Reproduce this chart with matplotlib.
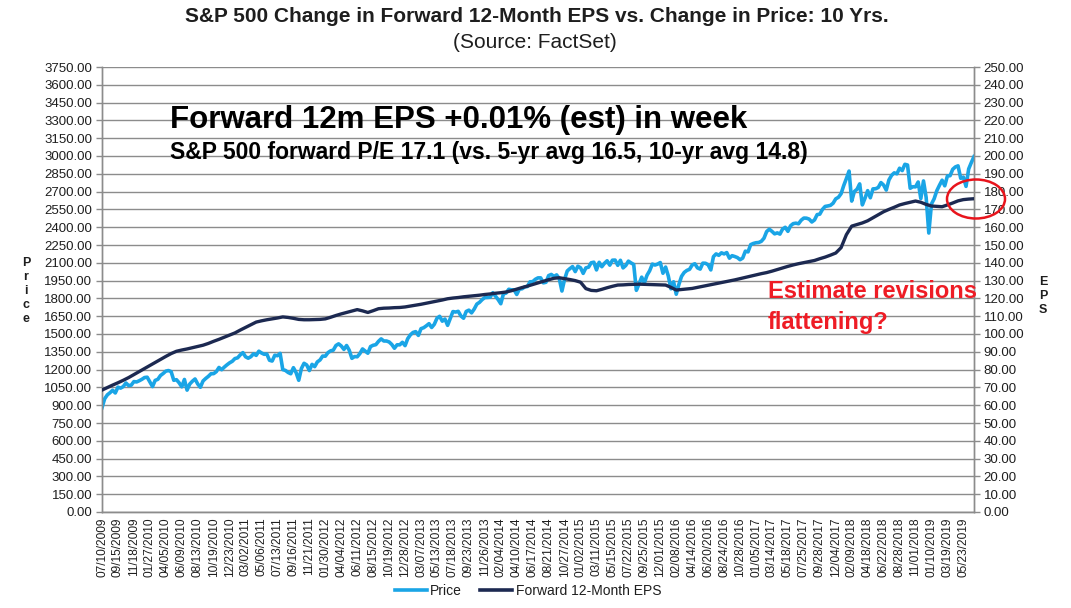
import numpy as np
import matplotlib
matplotlib.use("Agg")
import matplotlib.pyplot as plt
from matplotlib.patches import Ellipse
from matplotlib.lines import Line2D

plt.rcParams['font.family'] = ['Liberation Sans', 'DejaVu Sans']

# x-axis category labels (one every ~46 trading days)
date_labels = [
    "07/10/2009", "09/15/2009", "11/18/2009", "01/27/2010", "04/05/2010", "06/09/2010",
    "08/13/2010", "10/19/2010", "12/23/2010", "03/02/2011", "05/06/2011", "07/13/2011",
    "09/16/2011", "11/21/2011", "01/30/2012", "04/04/2012", "06/11/2012", "08/15/2012",
    "10/19/2012", "12/28/2012", "03/07/2013", "05/13/2013", "07/18/2013", "09/23/2013",
    "11/26/2013", "02/04/2014", "04/10/2014", "06/17/2014", "08/21/2014", "10/27/2014",
    "01/02/2015", "03/11/2015", "05/15/2015", "07/22/2015", "09/25/2015", "12/01/2015",
    "02/08/2016", "04/14/2016", "06/20/2016", "08/24/2016", "10/28/2016", "01/05/2017",
    "03/14/2017", "05/18/2017", "07/25/2017", "09/28/2017", "12/04/2017", "02/09/2018",
    "04/18/2018", "06/22/2018", "08/28/2018", "11/01/2018", "01/10/2019", "03/19/2019",
    "05/23/2019",
]

# S&P 500 price, 6 readings per label interval
price = [
    879, 954, 987, 1005, 1026, 1003, 1052, 1044, 1057, 1087, 1066, 1069,
    1099, 1096, 1106, 1118, 1133, 1136, 1097, 1057, 1109, 1118, 1150, 1167,
    1187, 1192, 1183, 1110, 1115, 1089, 1055, 1117, 1027, 1078, 1102, 1121,
    1079, 1051, 1104, 1125, 1143, 1165, 1166, 1183, 1218, 1199, 1221, 1240,
    1257, 1270, 1293, 1299, 1324, 1343, 1308, 1296, 1309, 1333, 1320, 1355,
    1340, 1329, 1331, 1279, 1272, 1321, 1317, 1337, 1200, 1193, 1176, 1165,
    1216, 1175, 1110, 1209, 1253, 1239, 1192, 1244, 1225, 1265, 1281, 1314,
    1313, 1343, 1358, 1364, 1403, 1417, 1399, 1370, 1403, 1363, 1295, 1310,
    1308, 1335, 1374, 1356, 1338, 1394, 1405, 1410, 1438, 1459, 1441, 1441,
    1433, 1412, 1380, 1409, 1409, 1430, 1402, 1461, 1493, 1513, 1520, 1488,
    1545, 1553, 1569, 1587, 1555, 1582, 1633, 1649, 1608, 1626, 1573, 1632,
    1689, 1685, 1691, 1652, 1633, 1690, 1701, 1678, 1710, 1752, 1767, 1790,
    1807, 1808, 1810, 1848, 1819, 1790, 1755, 1838, 1845, 1877, 1872, 1872,
    1833, 1879, 1881, 1897, 1900, 1940, 1941, 1961, 1973, 1973, 1931, 1936,
    1992, 2002, 1985, 1998, 1967, 1862, 1961, 2031, 2051, 2068, 2026, 2071,
    2058, 2011, 2057, 2063, 2100, 2105, 2040, 2104, 2067, 2096, 2117, 2080,
    2122, 2123, 2079, 2121, 2057, 2077, 2114, 2099, 2086, 1868, 1921, 1979,
    1931, 1995, 2033, 2089, 2081, 2089, 2102, 2012, 2064, 1990, 1881, 1940,
    1835, 1918, 1986, 2019, 2036, 2045, 2082, 2092, 2057, 2047, 2097, 2096,
    2083, 2040, 2152, 2175, 2163, 2184, 2175, 2186, 2139, 2160, 2153, 2144,
    2126, 2140, 2198, 2192, 2253, 2263, 2269, 2271, 2281, 2307, 2363, 2383,
    2365, 2344, 2352, 2342, 2384, 2399, 2365, 2412, 2430, 2434, 2429, 2459,
    2477, 2476, 2468, 2444, 2461, 2506, 2510, 2550, 2575, 2579, 2584, 2602,
    2639, 2652, 2682, 2751, 2810, 2873, 2620, 2701, 2720, 2765, 2588, 2644,
    2708, 2648, 2723, 2724, 2735, 2776, 2755, 2713, 2798, 2837, 2858, 2850,
    2897, 2877, 2930, 2924, 2728, 2741, 2740, 2781, 2641, 2790, 2651, 2351,
    2596, 2639, 2707, 2753, 2796, 2749, 2832, 2834, 2888, 2908, 2917, 2812,
    2822, 2744, 2891, 2945, 2995,
]

# Forward 12-month EPS, 3 readings per label interval
eps = [
    68.5, 69.9, 71.3, 72.6, 74.0, 75.5, 77.2, 78.9, 80.6, 82.3, 84.0, 85.7,
    87.4, 89.0, 90.3, 91.0, 91.6, 92.3, 93.0, 93.7, 94.7, 95.9, 97.0, 98.2,
    99.4, 100.6, 102.2, 103.7, 105.2, 106.7, 107.4, 108.0, 108.5, 109.0, 109.6, 109.3,
    108.8, 108.2, 108.0, 108.0, 108.1, 108.2, 108.5, 109.4, 110.4, 111.3, 112.1, 112.9,
    113.7, 113.0, 112.1, 113.1, 114.2, 114.5, 114.6, 114.8, 114.9, 115.2, 115.7, 116.2,
    116.7, 117.3, 117.9, 118.5, 119.1, 119.8, 120.2, 120.5, 120.9, 121.2, 121.5, 121.8,
    122.2, 122.5, 122.9, 123.2, 123.6, 124.3, 125.2, 126.1, 126.9, 127.8, 128.7, 129.6,
    130.5, 131.3, 131.6, 131.1, 130.6, 130.0, 129.1, 125.5, 124.5, 124.3, 125.1, 126.0,
    126.8, 127.5, 127.6, 127.8, 127.9, 128.0, 127.9, 127.8, 127.7, 127.6, 127.5, 126.2,
    124.7, 125.0, 125.3, 125.6, 126.2, 126.8, 127.4, 128.0, 128.6, 129.2, 129.8, 130.4,
    131.1, 131.8, 132.5, 133.2, 133.9, 134.5, 135.3, 136.2, 137.1, 138.0, 138.8, 139.5,
    140.1, 140.7, 141.3, 142.3, 143.2, 144.3, 145.5, 148.5, 155.8, 160.6, 161.5, 162.4,
    163.6, 165.3, 167.0, 168.7, 170.0, 171.2, 172.5, 173.3, 174.0, 174.7, 174.0, 172.8,
    171.9, 171.7, 171.5, 172.5, 173.6, 174.8, 175.5, 175.8, 176.0,
]

price_x = np.arange(len(price)) / 6
eps_x = np.arange(len(eps)) / 3

blue = '#1aa5e6'
navy = '#1c2951'
grid_c = '#8c8c8c'
txt_c = '#1e1e1e'

fig = plt.figure(figsize=(10.71, 6.08), dpi=100)
ax = fig.add_axes([102 / 1071, 1 - 512 / 608, 872 / 1071, 445 / 608])
ax2 = ax.twinx()

ax.plot(price_x, price, color=blue, lw=2.6, zorder=3)
ax2.plot(eps_x, eps, color=navy, lw=2.4, zorder=3)

ax.set_xlim(0, price_x[-1])
ax.set_ylim(0, 3750)
ax2.set_ylim(0, 250)
ax.set_yticks(np.arange(0, 3751, 150))
ax.set_yticklabels([f"{v:.2f}" for v in np.arange(0, 3751, 150)])
ax2.set_yticks(np.arange(0, 251, 10))
ax2.set_yticklabels([f"{v:.2f}" for v in np.arange(0, 251, 10)])
ax.set_xticks(np.arange(len(date_labels)))
ax.set_xticklabels(date_labels, rotation=90)

ax.yaxis.grid(True, color=grid_c, lw=1.0)
ax.set_axisbelow(True)
for a in (ax, ax2):
    a.spines['top'].set_visible(False)
    for s in ('left', 'right', 'bottom'):
        a.spines[s].set_color(grid_c)
        a.spines[s].set_linewidth(1.0)
ax.tick_params(axis='y', labelsize=9.5, colors=grid_c, labelcolor=txt_c, length=4, width=1, pad=3)
ax2.tick_params(axis='y', labelsize=9.5, colors=grid_c, labelcolor=txt_c, length=4, width=1, pad=3)
ax.tick_params(axis='x', labelsize=8.6, labelcolor=txt_c, length=0, pad=4)

fig.text(0.501, 1 - 17 / 608, "S&P 500 Change in Forward 12-Month EPS vs. Change in Price: 10 Yrs.",
         ha='center', va='center', fontsize=15, fontweight='bold', color=txt_c)
fig.text(0.499, 1 - 42 / 608, "(Source: FactSet)", ha='center', va='center', fontsize=15, color=txt_c)

fig.text(26 / 1071, 1 - 291 / 608, "P\nr\ni\nc\ne", ha='center', va='center', fontsize=9,
         fontweight='bold', linespacing=1.2, color=txt_c)
fig.text(1043 / 1071, 1 - 296 / 608, "E\nP\nS", ha='center', va='center', fontsize=9,
         fontweight='bold', linespacing=1.2, color=txt_c)

fig.text(170 / 1071, 1 - 120 / 608, "Forward 12m EPS +0.01% (est) in week", ha='left', va='center',
         fontsize=22.5, fontweight='bold', color='black')
fig.text(170 / 1071, 1 - 153 / 608, "S&P 500 forward P/E 17.1 (vs. 5-yr avg 16.5, 10-yr avg 14.8)",
         ha='left', va='center', fontsize=16.5, fontweight='bold', color='black')
fig.text(768 / 1071, 1 - 292 / 608, "Estimate revisions", ha='left', va='center',
         fontsize=17, fontweight='bold', color='#ee1c25')
fig.text(768 / 1071, 1 - 322 / 608, "flattening?", ha='left', va='center',
         fontsize=17, fontweight='bold', color='#ee1c25')

fig.add_artist(Ellipse((976 / 1071, 1 - 199 / 608), 58 / 1071, 39 / 608, transform=fig.transFigure,
                       fill=False, edgecolor='#e8141c', lw=1.8))

handles = [Line2D([], [], color=blue, lw=2.6), Line2D([], [], color=navy, lw=2.6)]
fig.legend(handles, ["Price", "Forward 12-Month EPS"], loc='center', bbox_to_anchor=(528 / 1071, 1 - 591 / 608),
           ncol=2, frameon=False, fontsize=10, handlelength=2.3, handletextpad=0.25, columnspacing=1.3,
           labelcolor=txt_c)

fig.savefig("out.png", dpi=100)
